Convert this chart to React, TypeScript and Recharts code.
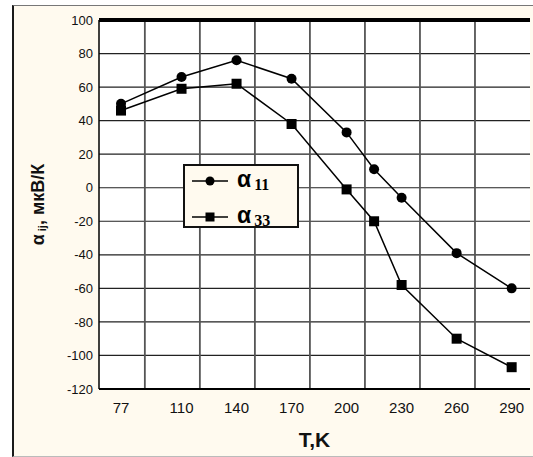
import React from 'react';
import { LineChart, Line, XAxis, YAxis, CartesianGrid, ReferenceLine, Legend, Label } from 'recharts';

// temperature points (K) and Seebeck coefficients (мкВ/К)
const temps = [77, 110, 140, 170, 200, 215, 230, 260, 290];
const alpha11 = [50, 66, 76, 65, 33, 11, -6, -39, -60];
const alpha33 = [46, 59, 62, 38, -1, -20, -58, -90, -107];

const xTicks = [77, 110, 140, 170, 200, 230, 260, 290];
const yTicks = [-120, -100, -80, -60, -40, -20, 0, 20, 40, 60, 80, 100];
const xGridLines = [90, 120, 150, 180, 210, 240, 270];

const X_DOMAIN = [65, 300];
const Y_DOMAIN = [-120, 100];

// small inner ticks on the frame
const xMinor = Array.from({ length: 40 }, (_, i) => 66 + i * 6).filter((v) => v < 300 && (v - 90) % 30 !== 0);
const yMinor = Array.from({ length: 56 }, (_, i) => -120 + i * 4).filter((v) => v % 20 !== 0);

const data = temps.map((t, i) => ({ t, a11: alpha11[i], a33: alpha33[i] }));

const CREAM = '#FFFAEF';
const FONT = 'Arial, "Liberation Sans", sans-serif';

const SquareDot = (props: any) => {
  const { cx, cy, index } = props;
  if (cx == null || cy == null) return <g key={`sq-${index}`} />;
  return <rect key={`sq-${index}`} x={cx - 5} y={cy - 5} width={10} height={10} fill="#000" />;
};

const CircleDot = (props: any) => {
  const { cx, cy, index } = props;
  if (cx == null || cy == null) return <g key={`c-${index}`} />;
  return <circle key={`c-${index}`} cx={cx} cy={cy} r={5} fill="#000" />;
};

const LegendBox = (props: any) => {
  const items = (props.payload || []) as any[];
  return (
    <svg width={116} height={64} style={{ display: 'block' }}>
      <rect x={1} y={1} width={114} height={62} fill={CREAM} stroke="#111" strokeWidth={2} />
      {items.map((it, i) => {
        const y = 17 + i * 36;
        const sub = it.dataKey === 'a11' ? '11' : '33';
        return (
          <g key={it.dataKey}>
            <line x1={9} x2={45} y1={y} y2={y} stroke="#000" strokeWidth={1.5} />
            {it.dataKey === 'a11' ? (
              <circle cx={27} cy={y} r={4.5} fill="#000" />
            ) : (
              <rect x={22.5} y={y - 4.5} width={9} height={9} fill="#000" />
            )}
            <text x={54} y={y + 6} fontFamily={FONT} fontWeight="bold" fontSize={23} fill="#000">
              α
              <tspan fontFamily='"Liberation Serif", serif' fontSize={16} dx={3} dy={3}>{sub}</tspan>
            </text>
          </g>
        );
      })}
    </svg>
  );
};

const YTitle = (props: any) => {
  const vb = props.viewBox || { x: 0, y: 0, width: 0, height: 0 };
  const cx = vb.x + 38;
  const cy = vb.y + vb.height / 2;
  return (
    <text
      x={cx}
      y={cy}
      transform={`rotate(-90 ${cx} ${cy})`}
      textAnchor="middle"
      dominantBaseline="central"
      fontFamily={FONT}
      fontWeight="bold"
      fontSize={18}
      fill="#111"
    >
      α<tspan fontSize={11} dx={3} dy={4}>ij</tspan>
      <tspan dy={-4}>, мкВ/К</tspan>
    </text>
  );
};

export default function App() {
  return (
    <div style={{ position: 'absolute', left: 0, top: 0, width: 533, height: 457, background: '#fff' }}>
      <div
        style={{
          position: 'absolute',
          left: 12,
          top: 5,
          width: 519,
          height: 450,
          background: CREAM,
          borderLeft: '2px solid #1a1a1a',
          borderTop: '1px solid #777',
          borderBottom: '1px solid #bbb',
        }}
      />
      <div style={{ position: 'absolute', left: 0, top: 0 }}>
        <LineChart width={533} height={457} data={data} margin={{ top: 20, right: 3, bottom: 0, left: 0 }}>
          <CartesianGrid vertical={false} fill="#fff" stroke="#222" strokeWidth={1.2} />
          <XAxis
            dataKey="t"
            type="number"
            domain={X_DOMAIN}
            ticks={xTicks}
            interval={0}
            height={68}
            tickLine={false}
            tickSize={6}
            tickMargin={7}
            axisLine={{ stroke: '#000', strokeWidth: 2 }}
            tick={{ fill: '#111', fontSize: 15, fontFamily: FONT }}
          >
            <Label value="T,K" position="insideBottom" offset={10} fill="#111" fontSize={21} fontWeight="bold" fontFamily={FONT} />
          </XAxis>
          <XAxis
            xAxisId="minor"
            dataKey="t"
            type="number"
            domain={X_DOMAIN}
            ticks={xMinor}
            interval={0}
            mirror
            height={0}
            axisLine={false}
            tick={false}
            tickSize={3}
            tickLine={{ stroke: '#000', strokeWidth: 1 }}
          />
          <YAxis
            type="number"
            domain={Y_DOMAIN}
            ticks={yTicks}
            interval={0}
            width={99}
            tickLine={false}
            tickSize={3}
            tickMargin={3}
            axisLine={{ stroke: '#000', strokeWidth: 1.5 }}
            tick={{ fill: '#111', fontSize: 13, fontFamily: FONT }}
            label={<YTitle />}
          />
          <YAxis
            yAxisId="minorL"
            type="number"
            domain={Y_DOMAIN}
            ticks={yMinor}
            interval={0}
            mirror
            width={0}
            axisLine={false}
            tick={false}
            tickSize={3}
            tickLine={{ stroke: '#000', strokeWidth: 1 }}
          />
          <YAxis
            yAxisId="minorR"
            orientation="right"
            type="number"
            domain={Y_DOMAIN}
            ticks={yMinor}
            interval={0}
            mirror
            width={0}
            axisLine={{ stroke: '#000', strokeWidth: 1.5 }}
            tick={false}
            tickSize={3}
            tickLine={{ stroke: '#000', strokeWidth: 1 }}
          />
          {xGridLines.map((v) => (
            <ReferenceLine key={v} x={v} stroke="#555" strokeWidth={1.8} />
          ))}
          <ReferenceLine y={100} stroke="#000" strokeWidth={4} />
          <Line
            dataKey="a11"
            name="α11"
            stroke="#000"
            strokeWidth={1.5}
            dot={<CircleDot />}
            activeDot={false}
            isAnimationActive={false}
          />
          <Line
            dataKey="a33"
            name="α33"
            stroke="#000"
            strokeWidth={1.5}
            dot={<SquareDot />}
            activeDot={false}
            isAnimationActive={false}
          />
          <Legend
            layout="vertical"
            align="center"
            verticalAlign="middle"
            width={116}
            height={64}
            content={<LegendBox />}
            wrapperStyle={{ left: 183, top: 164, width: 116, height: 64 }}
          />
        </LineChart>
      </div>
    </div>
  );
}
